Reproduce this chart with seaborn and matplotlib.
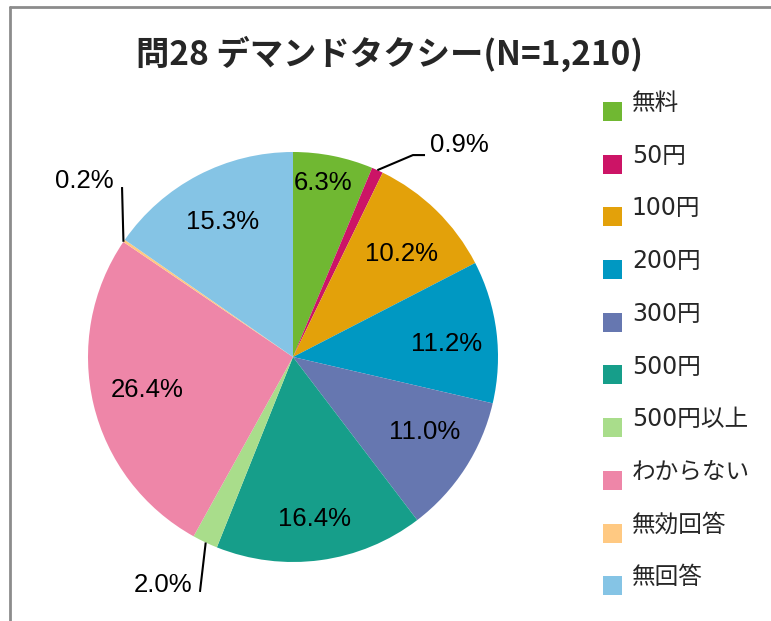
import numpy as np
import matplotlib
matplotlib.use("Agg")
import matplotlib.pyplot as plt
from matplotlib.lines import Line2D
from matplotlib.patches import Rectangle, Wedge
from matplotlib.legend_handler import HandlerPatch
import seaborn as sns

# Survey answers: fare people would pay for the demand taxi (N=1,210)
categories = ["無料", "50円", "100円", "200円", "300円", "500円",
              "500円以上", "わからない", "無効回答", "無回答"]
shares = [6.3, 0.9, 10.2, 11.2, 11.0, 16.4, 2.0, 26.4, 0.2, 15.3]
colors = ["#70B832", "#CC1466", "#E3A10A", "#0098C2", "#6677B0",
          "#169E8A", "#A9DD8B", "#EE86A8", "#FFC982", "#85C4E5"]
title = "問28 デマンドタクシー(N=1,210)"

sns.set_theme(style="white")
plt.rcParams["font.family"] = ["Noto Sans CJK JP", "DejaVu Sans"]

W, H = 771, 621
fig = plt.figure(figsize=(W / 100, H / 100), dpi=100)
fig.patch.set_facecolor("white")

# pie axes: centre (293, 357) px, radius 205 px
cx, cy, R = 293, 357, 205
ax = fig.add_axes([(cx - R) / W, (H - cy - R) / H, 2 * R / W, 2 * R / H])
wedges, _ = ax.pie(shares, colors=colors, startangle=90, counterclock=False,
                   radius=1.0, wedgeprops=dict(linewidth=0))
ax.set_xlim(-1, 1)
ax.set_ylim(-1, 1)
ax.set_aspect("equal")
ax.axis("off")

# wedge mid-angles (degrees) from the data
cum = np.concatenate([[0], np.cumsum(shares)])
mid_deg = 90 - (cum[:-1] + cum[1:]) / 2 * 3.6
mid = np.deg2rad(mid_deg)

label_font = dict(family="Liberation Sans", fontsize=18.5, color="black")

# labels inside the big wedges: (radius, angular nudge in degrees)
inner = {0: (0.86, 1.5), 2: (0.73, -2.3), 3: (0.754, -2.4), 4: (0.74, 3.2),
         5: (0.797, -0.2), 7: (0.73, -1.0), 9: (0.744, -0.2)}
for i, (r, d) in inner.items():
    a = np.deg2rad(mid_deg[i] + d)
    ax.text(r * np.cos(a), r * np.sin(a), f"{shares[i]:.1f}%",
            ha="center", va="center", **label_font)

# small wedges: labels outside with leader lines
def leader(i, pts, text_xy, ha, va):
    ex, ey = np.cos(mid[i]), np.sin(mid[i])
    xs = [ex] + [p[0] for p in pts]
    ys = [ey] + [p[1] for p in pts]
    ax.plot(xs, ys, color="black", lw=1.5, clip_on=False, solid_capstyle="butt")
    ax.text(text_xy[0], text_xy[1], f"{shares[i]:.1f}%", ha=ha, va=va,
            clip_on=False, **label_font)

leader(1, [(0.585, 0.985), (0.644, 0.985)], (0.668, 1.034), "left", "center")
leader(8, [(-0.834, 0.829)], (-1.02, 0.858), "center", "center")
leader(6, [(-0.454, -1.146)], (-0.634, -1.11), "center", "center")

# title
fig.text(390 / W, 1 - 54 / H, title, ha="center", va="center",
         fontsize=24, fontweight="bold", family=["Noto Sans CJK JP", "DejaVu Sans"])

# legend on the right: squares sit a little below the text line
SQ_PT = 19 * 72 / 100
DROP_PT = 10 * 72 / 100


def square(legend, orig_handle, xdescent, ydescent, width, height, fontsize):
    return Rectangle((-xdescent, -ydescent - DROP_PT), SQ_PT, SQ_PT)


leg = fig.legend(wedges, categories, loc="upper left",
                 bbox_to_anchor=(603 / W, 1 - 91 / H), frameon=False,
                 handlelength=0.8, handleheight=0.8,
                 handletextpad=0.42, labelspacing=1.216, borderpad=0,
                 borderaxespad=0,
                 handler_map={Wedge: HandlerPatch(patch_func=square)},
                 prop=dict(family=["DejaVu Sans", "Noto Sans CJK JP"], size=17))

# outer frame (left and top edges)
frame_kw = dict(color="#8C8C8C", lw=2, transform=fig.transFigure)
fig.add_artist(Line2D([10 / W, 10 / W], [0, 1 - 7 / H], **frame_kw))
fig.add_artist(Line2D([10 / W, 1], [1 - 7 / H, 1 - 7 / H], **frame_kw))

fig.savefig("out.png", dpi=100, facecolor="white")
